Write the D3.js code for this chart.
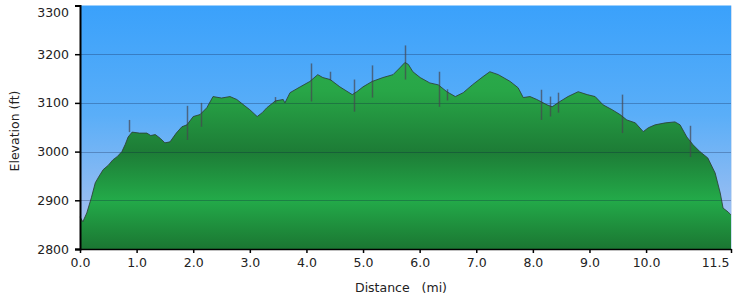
<!DOCTYPE html>
<html><head><meta charset="utf-8">
<script src="https://cdn.jsdelivr.net/npm/d3@7"></script>
<style>body{margin:0;background:#fff}svg{display:block}</style>
</head><body><svg id="c" width="737" height="300"></svg>
<script>
// distance (mi), elevation (ft)
const distance = [0.00,0.05,0.12,0.20,0.27,0.34,0.41,0.50,0.58,0.66,0.74,0.80,0.85,0.92,1.05,1.18,1.25,1.33,1.42,1.50,1.59,1.70,1.80,1.89,2.00,2.12,2.24,2.35,2.50,2.65,2.77,2.90,3.00,3.13,3.22,3.30,3.45,3.59,3.62,3.71,3.89,4.06,4.20,4.29,4.42,4.59,4.70,4.81,4.89,5.00,5.16,5.35,5.53,5.65,5.74,5.80,5.88,6.01,6.18,6.33,6.48,6.63,6.77,6.93,7.12,7.24,7.39,7.60,7.74,7.83,7.95,8.07,8.25,8.34,8.48,8.62,8.80,8.96,9.10,9.24,9.40,9.54,9.66,9.81,9.95,10.04,10.16,10.34,10.51,10.60,10.72,10.83,10.95,11.09,11.22,11.31,11.36,11.45,11.50];
const elevation = [2866,2856,2874,2905,2936,2950,2963,2972,2983,2990,3000,3015,3030,3040,3038,3038,3033,3035,3027,3018,3020,3038,3051,3055,3072,3076,3090,3113,3110,3113,3107,3095,3086,3072,3080,3090,3104,3107,3100,3121,3133,3144,3158,3152,3148,3133,3125,3117,3123,3133,3144,3152,3158,3172,3183,3179,3164,3152,3141,3137,3123,3113,3121,3137,3154,3164,3158,3144,3131,3111,3113,3107,3096,3092,3103,3113,3123,3117,3113,3096,3086,3076,3065,3059,3041,3049,3055,3059,3061,3055,3030,3014,3000,2987,2956,2915,2884,2876,2870];
// GPS spikes: distance, high, low
const spikeDist = [0.87,1.89,2.14,3.45,4.08,4.42,4.84,5.16,5.74,6.34,6.48,8.14,8.30,8.45,9.58,10.78];
const spikeHigh = [3065,3094,3100,3112,3181,3164,3148,3177,3218,3164,3128,3127,3113,3121,3117,3053];
const spikeLow  = [3040,3024,3051,3100,3103,3146,3082,3111,3148,3092,3105,3065,3072,3080,3038,2989];
const yTicks = [2800,2900,3000,3100,3200,3300];
const xTicks = [0,1,2,3,4,5,6,7,8,9,10,11.5];

const data = distance.map((d,i)=>({d, e:elevation[i]}));
const svg = d3.select("#c");
const L=80, R=731, T=5.5, B=249;
const x = d3.scaleLinear().domain([0,11.5]).range([L,R]);
const y = d3.scaleLinear().domain([2800,3300]).range([B,T]);

const defs = svg.append("defs");
const bg = defs.append("linearGradient").attr("id","bg").attr("gradientUnits","userSpaceOnUse")
  .attr("x1",0).attr("x2",0).attr("y1",T).attr("y2",B);
[[0,"#3aa1fb"],[0.45,"#5aaef8"],[1,"#b4c4ee"]].forEach(s=>bg.append("stop").attr("offset",s[0]).attr("stop-color",s[1]));
const gr = defs.append("linearGradient").attr("id","gr").attr("gradientUnits","userSpaceOnUse")
  .attr("x1",0).attr("x2",0).attr("y1",T).attr("y2",B);
[[0,"#30b455"],[0.35,"#28a647"],[0.6,"#1d7c36"],[0.8,"#23aa49"],[1,"#1b7632"]].forEach(s=>gr.append("stop").attr("offset",s[0]).attr("stop-color",s[1]));

svg.append("rect").attr("x",L).attr("y",T).attr("width",R-L).attr("height",B-T).attr("fill","url(#bg)");

const area = d3.area().x(d=>x(d.d)).y0(B).y1(d=>y(d.e));
svg.append("path").datum(data).attr("d",area).attr("fill","url(#gr)");

// gridlines
svg.append("g").selectAll("line").data(yTicks.filter(t=>t>2800&&t<3300)).join("line")
  .attr("x1",L).attr("x2",R).attr("y1",d=>Math.round(y(d))+0.5).attr("y2",d=>Math.round(y(d))+0.5)
  .attr("stroke","rgba(10,20,60,0.28)").attr("stroke-width",1);

// spikes
svg.append("g").selectAll("line").data(spikeDist.map((d,i)=>({d,h:spikeHigh[i],l:spikeLow[i]}))).join("line")
  .attr("x1",d=>Math.round(x(d.d))+0.5).attr("x2",d=>Math.round(x(d.d))+0.5)
  .attr("y1",d=>y(d.h)).attr("y2",d=>y(d.l))
  .attr("stroke","rgba(70,70,80,0.7)").attr("stroke-width",1.5);

const line = d3.line().x(d=>x(d.d)).y(d=>y(d.e));
svg.append("path").datum(data).attr("d",line).attr("fill","none")
  .attr("stroke","#2d3f36").attr("stroke-width",1).attr("opacity",0.85);

// right pale edge
svg.append("line").attr("x1",R+0.5).attr("x2",R+0.5).attr("y1",T).attr("y2",B).attr("stroke","#cfe0f4").attr("stroke-width",1);

// axes
const font = "DejaVu Sans, Verdana, sans-serif";
const ya = svg.append("g").attr("transform",`translate(${L},0)`)
  .call(d3.axisLeft(y).tickValues(yTicks).tickFormat(d3.format("d")).tickSize(5).tickPadding(6));
ya.select(".domain").attr("stroke","#000").attr("stroke-width",2);
ya.selectAll(".tick line").attr("stroke","#000").attr("stroke-width",1.5);
ya.selectAll("text").attr("font-family",font).attr("font-size",12.5).attr("fill","#222")
  .attr("dy",d=>d===3300?"0.85em":"0.32em");

const xa = svg.append("g").attr("transform",`translate(0,${B})`)
  .call(d3.axisBottom(x).tickValues(xTicks).tickFormat(d3.format(".1f")).tickSize(4).tickPadding(5));
xa.select(".domain").attr("stroke","#000").attr("stroke-width",1.5).attr("d",`M${L-5},0.5H${R+0.5}`);
xa.selectAll(".tick line").attr("stroke","#000").attr("stroke-width",1.5);
xa.selectAll("text").attr("font-family",font).attr("font-size",12.5).attr("fill","#222")
  .attr("text-anchor",d=>d===11.5?"end":"middle").attr("x",d=>d===11.5?-2:0);

svg.append("text").attr("x",401).attr("y",292).attr("text-anchor","middle")
  .attr("font-family",font).attr("font-size",12.5).attr("fill","#222").style("white-space","pre")
  .text("Distance   (mi)");
svg.append("text").attr("transform","translate(19,131) rotate(-90)").attr("text-anchor","middle")
  .attr("font-family",font).attr("font-size",12.5).attr("fill","#222")
  .text("Elevation (ft)");
</script></body></html>
